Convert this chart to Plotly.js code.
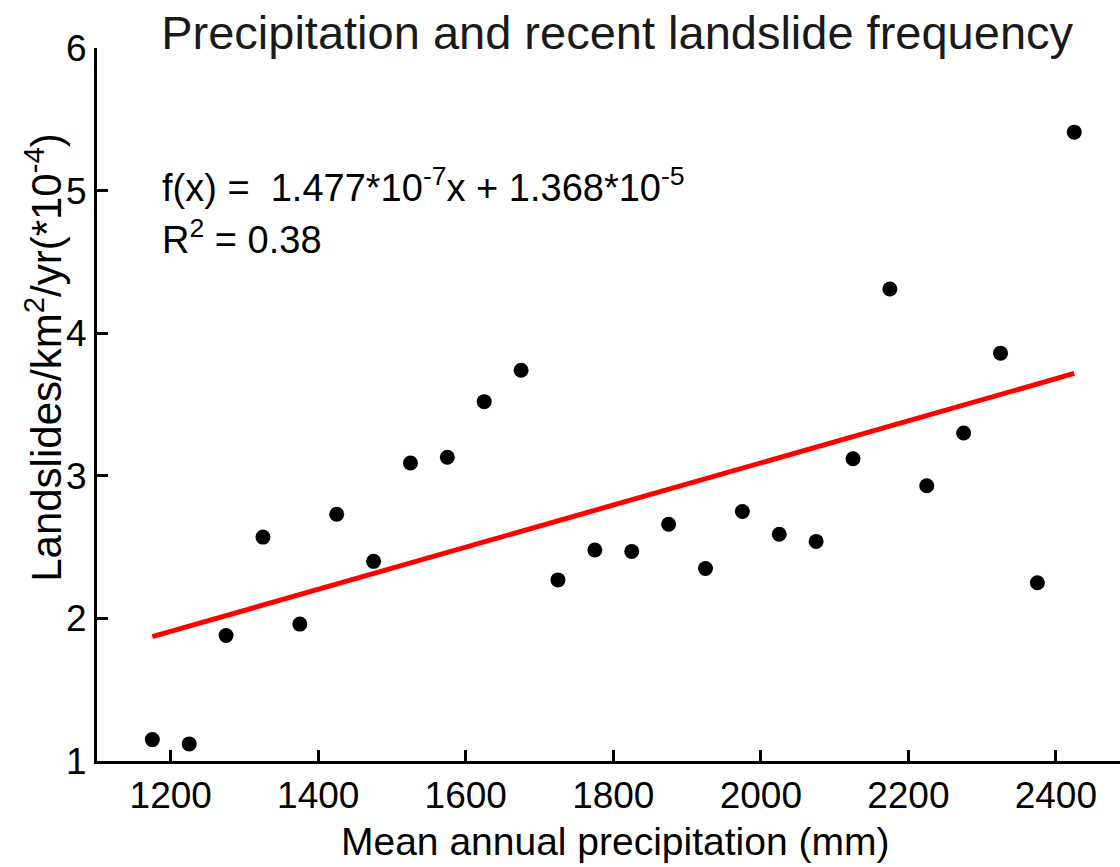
<!DOCTYPE html>
<html>
<head>
<meta charset="utf-8">
<script src="https://cdn.plot.ly/plotly-3.0.1.min.js"></script>
<style>
  html, body { margin: 0; padding: 0; background: #fff; }
  #chart { width: 1120px; height: 867px; }
</style>
</head>
<body>
<div id="chart"></div>
<script>
// Mean annual precipitation (mm)
const precip = [1175, 1225, 1275, 1325, 1375, 1425, 1475, 1525, 1575, 1625, 1675, 1725, 1775,
                1825, 1875, 1925, 1975, 2025, 2075, 2125, 2175, 2225, 2275, 2325, 2375, 2425];
// Landslides/km2/yr (*10^-4)
const freq = [1.15, 1.12, 1.88, 2.57, 1.96, 2.73, 2.40, 3.09, 3.13, 3.52, 3.74, 2.27, 2.48,
              2.47, 2.66, 2.35, 2.75, 2.59, 2.54, 3.12, 4.31, 2.93, 3.30, 3.86, 2.25, 5.41];
// Fitted line endpoints
const fitX = [1175, 2425];
const fitY = [1.872, 3.718];

const xTicks = [1200, 1400, 1600, 1800, 2000, 2200, 2400];
const yTicks = [1, 2, 3, 4, 5, 6];

const FONT = "Liberation Sans, Arial, Helvetica, sans-serif";

const traces = [
  {
    x: fitX, y: fitY, type: "scatter", mode: "lines",
    line: { color: "#ff0000", width: 5 },
    hoverinfo: "skip", showlegend: false
  },
  {
    x: precip, y: freq, type: "scatter", mode: "markers",
    marker: { color: "#000000", size: 15 },
    showlegend: false
  }
];

const layout = {
  width: 1120, height: 867,
  margin: { l: 97, r: 0, t: 48, b: 106 },
  paper_bgcolor: "#ffffff", plot_bgcolor: "#ffffff",
  font: { family: FONT, color: "#000000", size: 36 },
  title: {
    text: "Precipitation and recent landslide frequency",
    font: { family: FONT, size: 47, color: "#1a1a1a" },
    xref: "container", yref: "container",
    x: 0.551, xanchor: "center", y: 0.962, yanchor: "middle"
  },
  xaxis: {
    range: [1100, 2487],
    tickvals: xTicks, ticktext: xTicks.map(String),
    ticks: "inside", ticklen: 11, tickwidth: 3, tickcolor: "#000",
    showline: true, linewidth: 3, linecolor: "#000",
    showgrid: false, zeroline: false,
    tickfont: { family: FONT, size: 37, color: "#000" },
    fixedrange: true
  },
  yaxis: {
    range: [1, 6],
    tickvals: yTicks, ticktext: yTicks.map(String),
    ticks: "inside", ticklen: 11, tickwidth: 3, tickcolor: "#000",
    showline: true, linewidth: 3, linecolor: "#000",
    showgrid: false, zeroline: false,
    tickfont: { family: FONT, size: 37, color: "#000" },
    fixedrange: true
  },
  annotations: [
    {
      xref: "paper", yref: "paper", x: 0.5064, y: -0.1136,
      xanchor: "center", yanchor: "middle", showarrow: false,
      text: "Mean annual precipitation (mm)",
      font: { family: FONT, size: 39, color: "#000" }
    },
    {
      xref: "paper", yref: "paper", x: -0.052, y: 0.5666,
      xanchor: "center", yanchor: "middle", showarrow: false, textangle: -90,
      text: "Landslides/km<sup>2</sup>/yr(*10<sup>-4</sup>)",
      font: { family: FONT, size: 42, color: "#000" }
    },
    {
      xref: "paper", yref: "paper", x: 0.0616, y: 0.808,
      xanchor: "left", yanchor: "middle", showarrow: false,
      text: "f(x) =  1.477*10<sup>-7</sup>x + 1.368*10<sup>-5</sup>",
      font: { family: FONT, size: 38, color: "#000" }
    },
    {
      xref: "paper", yref: "paper", x: 0.0616, y: 0.735,
      xanchor: "left", yanchor: "middle", showarrow: false,
      text: "R<sup>2</sup> = 0.38",
      font: { family: FONT, size: 38, color: "#000" }
    }
  ]
};

Plotly.newPlot("chart", traces, layout, { displayModeBar: false, staticPlot: true });
</script>
</body>
</html>
